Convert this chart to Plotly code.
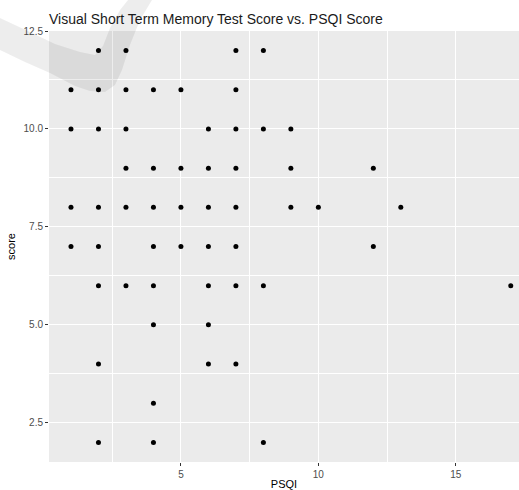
import plotly.graph_objects as go

# Data (PSQI vs. score)
psqi = [2, 3, 7, 8,
        1, 2, 3, 4, 5, 7,
        1, 2, 3, 6, 7, 8, 9,
        3, 4, 5, 6, 7, 9, 12,
        1, 2, 3, 4, 5, 6, 7, 9, 10, 13,
        1, 2, 4, 5, 6, 7, 12,
        2, 3, 4, 6, 7, 8, 17,
        4, 6,
        2, 6, 7,
        4,
        2, 4, 8]
score = [12, 12, 12, 12,
         11, 11, 11, 11, 11, 11,
         10, 10, 10, 10, 10, 10, 10,
         9, 9, 9, 9, 9, 9, 9,
         8, 8, 8, 8, 8, 8, 8, 8, 8, 8,
         7, 7, 7, 7, 7, 7, 7,
         6, 6, 6, 6, 6, 6, 6,
         5, 5,
         4, 4, 4,
         3,
         2, 2, 2]

x_ticks = [5, 10, 15]
y_ticks = [2.5, 5.0, 7.5, 10.0, 12.5]
y_tick_text = ["2.5", "5.0", "7.5", "10.0", "12.5"]

W, H = 519, 490
ML, MR, MT, MB = 49, 0, 31, 28
PW, PH = W - ML - MR, H - MT - MB

fig = go.Figure(go.Scatter(
    x=psqi, y=score, mode="markers",
    marker=dict(color="black", size=5, line=dict(width=0)),
    hoverinfo="x+y", cliponaxis=False,
))

# decorative grey swoosh (screenshot watermark) in pixel coordinates
sw = [(0, 18), (30, 32), (55, 44), (80, 52), (95, 55), (103, 46), (110, 28), (120, 10), (128, 0),
      (152, 0), (140, 20), (130, 45), (122, 70), (115, 85), (105, 92), (90, 91), (75, 86),
      (50, 73), (25, 62), (0, 50)]
def to_paper(p):
    return ((p[0] - ML) / PW, (H - MB - p[1]) / PH)
pts = [to_paper(p) for p in sw]
path = "M " + " L ".join(f"{a:.4f},{b:.4f}" for a, b in pts) + " Z"

fig.update_layout(
    width=W, height=H,
    margin=dict(l=ML, r=MR, t=MT, b=MB),
    paper_bgcolor="white",
    plot_bgcolor="#EBEBEB",
    font=dict(family="Liberation Sans, Arial, sans-serif", color="#000000"),
    showlegend=False,
    title=dict(
        text="Visual Short Term Memory Test Score vs. PSQI Score",
        x=0, xref="paper", xanchor="left",
        y=1 - 19 / H, yref="container", yanchor="middle",
        font=dict(size=14, color="#1A1A1A"),
    ),
    xaxis=dict(
        range=[0.2, 17.3],
        tickmode="array", tickvals=x_ticks, ticktext=[str(v) for v in x_ticks],
        ticks="outside", ticklen=3, tickwidth=1, tickcolor="#333333",
        tickfont=dict(size=10, color="#4D4D4D"),
        showgrid=True, gridcolor="white", gridwidth=1.2,
        minor=dict(tickvals=[2.5, 7.5, 12.5, 17.5], showgrid=True, gridcolor="white", gridwidth=0.6, ticks=""),
        zeroline=False, showline=False,
        title=dict(text="PSQI", font=dict(size=11, color="#000000"), standoff=3),
        automargin=False,
    ),
    yaxis=dict(
        range=[1.5, 12.5],
        tickmode="array", tickvals=y_ticks, ticktext=y_tick_text,
        ticks="outside", ticklen=3, tickwidth=1, tickcolor="#333333",
        tickfont=dict(size=10, color="#4D4D4D"),
        showgrid=True, gridcolor="white", gridwidth=1.2,
        minor=dict(tickvals=[3.75, 6.25, 8.75, 11.25], showgrid=True, gridcolor="white", gridwidth=0.6, ticks=""),
        zeroline=False, showline=False,
        title=dict(text="score", font=dict(size=11, color="#000000"), standoff=5),
        automargin=False,
    ),
    shapes=[dict(type="path", path=path, xref="paper", yref="paper",
                 fillcolor="rgba(0,0,0,0.07)", line=dict(width=0), layer="above")],
)

fig.write_html(
    "out.html",
    config={"displayModeBar": False},
    post_script="document.body.style.margin='0';document.body.style.overflow='hidden';",
)
